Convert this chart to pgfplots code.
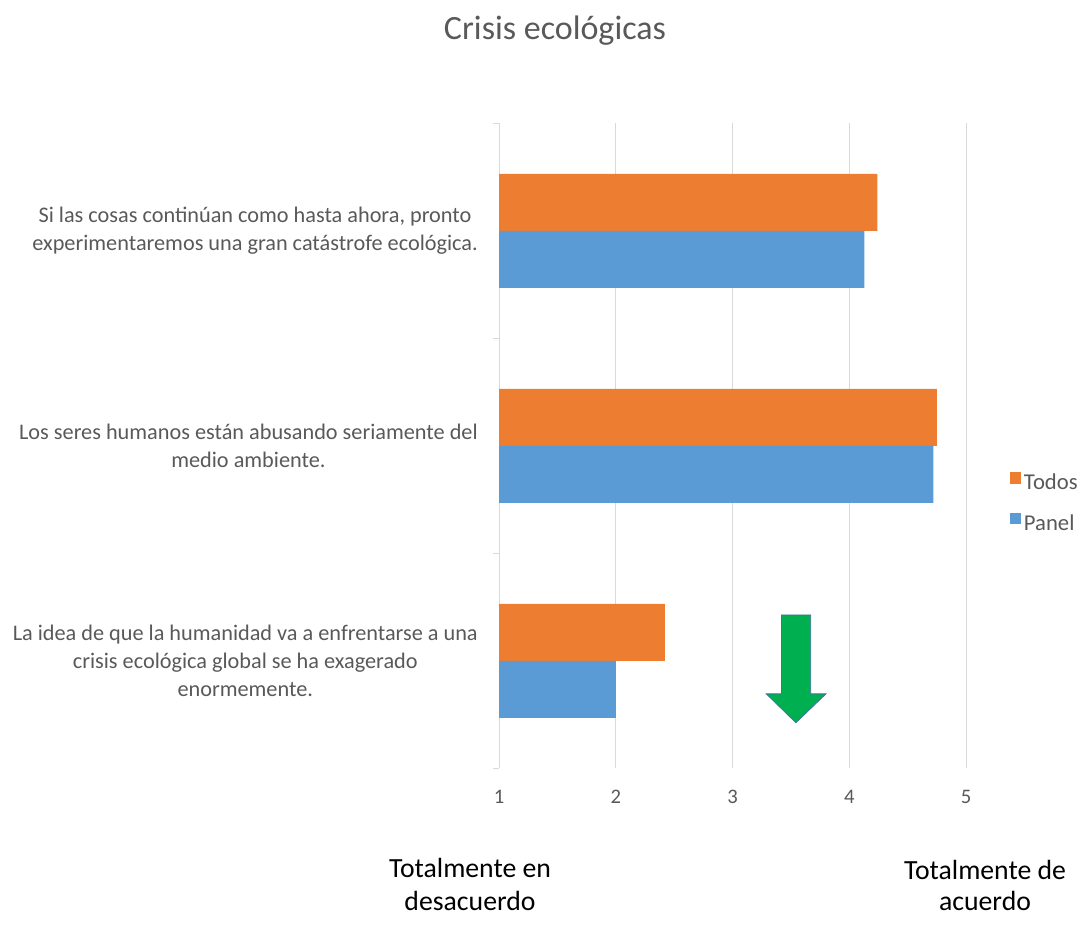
\documentclass[border=0pt]{standalone}
\usepackage{pgfplots}
\pgfplotsset{compat=1.18}
\usepackage{fontspec}
\setmainfont{Carlito}
\definecolor{cOrange}{HTML}{ED7D31}
\definecolor{cBlue}{HTML}{5B9BD5}
\definecolor{cText}{HTML}{595959}
\definecolor{cGrid}{HTML}{D9D9D9}
\definecolor{cGreen}{HTML}{00B050}
\definecolor{cEdge}{HTML}{41719C}
\begin{document}
\begin{tikzpicture}
\useasboundingbox (0,0) rectangle (815.25pt,-709.5pt);
\begin{axis}[
  at={(374.25pt,-576.2pt)}, anchor=south west,
  scale only axis, width=350.25pt, height=483.75pt,
  xmin=1, xmax=5, ymin=-0.5, ymax=2.5, y dir=reverse,
  xtick={1,2,3,4,5},
  ytick={0,1,2},
  yticklabels={{Si las cosas continúan como hasta ahora, pronto\\experimentaremos una gran catástrofe ecológica.},
               {Los seres humanos están abusando seriamente del\\medio ambiente.},
               {La idea de que la humanidad va a enfrentarse a una\\crisis ecológica global se ha exagerado\\enormemente.}},
  minor ytick={-0.5,0.5,1.5,2.5},
  tick pos=left,
  major tick length=0pt, minor tick length=4.5pt, tick align=outside,
  tick style={draw=cGrid, line width=0.75pt},
  axis line style={draw=none},
  xmajorgrids, major grid style={draw=cGrid, line width=0.75pt},
  /pgf/number format/assume math mode=true,
  yticklabel style={align=center, font=\fontsize{16.7}{21}\selectfont, text=cText, inner sep=0pt, xshift=-15.75pt},
  xticklabel style={font=\fontsize{15.5}{18}\selectfont, text=cText, yshift=-13pt},
  xbar, bar width=0.265,
  legend style={at={(1.085,0.411)}, anchor=west, draw=none, fill=none,
    font=\fontsize{17}{20}\selectfont, text=cText, row sep=13pt,
    legend cell align=left},
  legend image code/.code={\fill[#1] (0pt,-0.5pt) rectangle (8.5pt,8pt);},
]
\addplot[fill=cOrange, draw=none, bar shift=-0.1325] coordinates {(4.24,0) (4.75,1) (2.42,2)};
\addlegendentry{Todos}
\addplot[fill=cBlue, draw=none, bar shift=0.1325] coordinates {(4.13,0) (4.72,1) (2.00,2)};
\addlegendentry{Panel}
\fill[cGreen, draw=cEdge, line width=0.6pt] (axis cs:3.42,1.787) -- (axis cs:3.67,1.787) -- (axis cs:3.67,2.154) -- (axis cs:3.80,2.154) -- (axis cs:3.543,2.288) -- (axis cs:3.29,2.154) -- (axis cs:3.42,2.154) -- cycle;
\end{axis}
\node[anchor=base, text=cText, font=\fontsize{25.5}{30}\selectfont] at (416.25pt,-29.25pt) {Crisis ecológicas};
\node[anchor=base, font=\fontsize{20.8}{24}\selectfont] at (352.5pt,-657.75pt) {Totalmente en};
\node[anchor=base, font=\fontsize{20.8}{24}\selectfont] at (352.5pt,-682.5pt) {desacuerdo};
\node[anchor=base, font=\fontsize{20.8}{24}\selectfont] at (738.75pt,-659.25pt) {Totalmente de};
\node[anchor=base, font=\fontsize{20.8}{24}\selectfont] at (738.75pt,-682.5pt) {acuerdo};
\end{tikzpicture}
\end{document}
